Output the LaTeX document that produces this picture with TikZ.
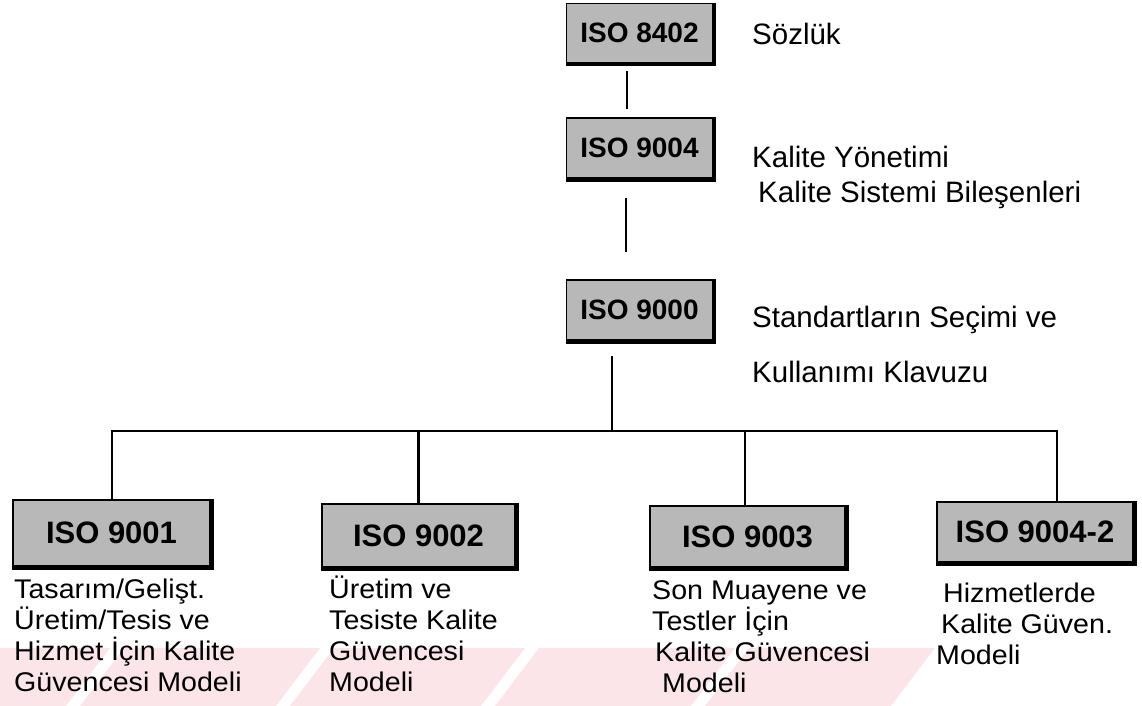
\documentclass[tikz,border=0pt]{standalone}
\usepackage{fontspec}
\setmainfont{Liberation Sans}
\usepackage{graphicx}
\definecolor{boxgray}{RGB}{184,184,184}
\definecolor{wmpink}{RGB}{252,229,232}

\begin{document}
\begin{tikzpicture}[x=1pt,y=-1pt,
  isobox/.style={draw=black, line width=1.6pt, fill=boxgray, inner sep=0pt,
                 font=\bfseries\fontsize{28}{30}\selectfont},
  lowbox/.style={isobox, font=\bfseries\fontsize{31}{33}\selectfont},
  link/.style={line width=2.8pt},
  note/.style={anchor=base west, inner sep=0pt, font=\fontsize{29.5}{31}\selectfont},
  desc/.style={anchor=base west, inner sep=0pt, font=\fontsize{27}{31.3}\selectfont},
]
\useasboundingbox (0,0) rectangle (1142,706);

% light diagonal bands along the bottom edge
\foreach \a/\b in {0/110,124/320,334/525,539/735,749/935}{
  \fill[wmpink] (\a,648) -- (\b,648) -- (\b-44,706) -- (\a-44,706) -- cycle;
}

% standard boxes
\node[isobox, minimum width=146pt, minimum height=59pt] (b8402) at (639.5,33) {ISO 8402};
\node[isobox, minimum width=146pt, minimum height=60pt] (b9004) at (639.5,148) {ISO 9004};
\node[isobox, minimum width=146pt, minimum height=60pt] (b9000) at (639.5,310) {ISO 9000};
\node[lowbox, minimum width=197pt, minimum height=66pt] (b9001) at (111.5,533) {ISO 9001};
\node[lowbox, minimum width=193pt, minimum height=63pt] (b9002) at (418.5,535.5) {ISO 9002};
\node[lowbox, minimum width=195pt, minimum height=61pt] (b9003) at (747.5,536.5) {ISO 9003};
\node[lowbox, minimum width=196pt, minimum height=60pt] (b9004ii) at (1035,532) {ISO 9004-2};

% heavy shadow edge on the right and bottom of every box
\foreach \n in {b8402,b9004,b9000,b9001,b9002,b9003,b9004ii}{
  \draw[line width=3.5pt] ([shift={(1,0)}]\n.north east) -- ([shift={(1,1)}]\n.south east)
        -- ([shift={(0,1)}]\n.south west);
}

% vertical links of the upper chain
\draw[link] ([xshift=-12.5pt,yshift=-8pt]b8402.south) -- ([xshift=-12.5pt,yshift=8pt]b9004.north);
\draw[link] ([xshift=-13.5pt,yshift=-19pt]b9004.south) -- ([xshift=-13.5pt,yshift=27pt]b9000.north);

% trunk and distribution bus
\coordinate (busL) at (112,431);
\coordinate (busR) at (1057,431);
\coordinate (trunkTop) at ([xshift=-27.5pt,yshift=-15pt]b9000.south);
\draw[link] (trunkTop) -- (trunkTop |- busL);
\draw[link] ([xshift=-1.4pt]busL) -- ([xshift=1.4pt]busR);
\draw[link] (busL) -- (busL |- b9001.north);
\draw[link] (b9002.north |- busL) -- (b9002.north);
\draw[link] ([xshift=-2.5pt]b9003.north |- busL) -- ([xshift=-2.5pt]b9003.north);
\draw[link] (busR) -- (busR |- b9004ii.north);

% descriptions beside the upper boxes
\node[note] (tSoz) at (752,45) {Sözlük};
\node[note] (tYon) at (752,167) {Kalite Yönetimi};
\node[note] (tBil) at (758,202) {Kalite Sistemi Bileşenleri};
\node[note] (tSec) at (752,327) {Standartların Seçimi ve};
\node[note] (tKla) at (752,382) {Kullanımı Klavuzu};

% descriptions under the lower boxes
\node[desc] (d9001) at (14,598) {\scalebox{1.06}[1]{\parbox[t]{300pt}{%
  Tasarım/Gelişt.\\Üretim/Tesis ve\\Hizmet İçin Kalite\\Güvencesi Modeli}}};
\node[desc] (d9002) at (329,598) {\scalebox{1.06}[1]{\parbox[t]{250pt}{%
  Üretim ve\\Tesiste Kalite\\Güvencesi\\Modeli}}};
\node[desc] (d9003) at (652,599) {\scalebox{1.06}[1]{\parbox[t]{250pt}{%
  Son Muayene ve\\Testler İçin\\\hspace*{2.8pt}Kalite Güvencesi\\\hspace*{9.4pt}Modeli}}};
\node[desc] (d9004ii) at (936,602) {\scalebox{1.06}[1]{\parbox[t]{200pt}{%
  \hspace*{6.5pt}Hizmetlerde\\\hspace*{4.7pt}Kalite Güven.\\Modeli}}};
\end{tikzpicture}
\end{document}
